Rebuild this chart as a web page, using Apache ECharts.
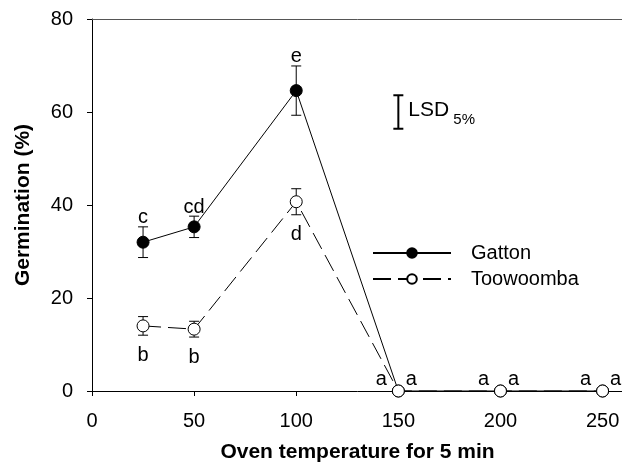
<!DOCTYPE html>
<html>
<head>
<meta charset="utf-8">
<script src="https://cdn.jsdelivr.net/npm/echarts@6/dist/echarts.min.js"></script>
<style>
  html, body { margin: 0; padding: 0; background: #fff; }
  #chart { width: 622px; height: 464px; }
</style>
</head>
<body>
<div id="chart"></div>
<script>
// oven temperature (x) and germination % per site
var temps = [25, 50, 100, 150, 200, 250]
var gatton = [32.0, 35.3, 64.6, 0, 0, 0]
var gattonSE = [3.3, 2.3, 5.3, 0, 0, 0]
var gattonLetters = ['c', 'cd', 'e', 'a', 'a', 'a']
var toowoomba = [14.0, 13.3, 40.7, 0, 0, 0]
var toowoombaSE = [2.0, 1.7, 2.8, 0, 0, 0]
var toowoombaLetters = ['b', 'b', 'd', 'a', 'a', 'a']
var xTicks = [0, 50, 100, 150, 200, 250]
var yTicks = [0, 20, 40, 60, 80]
var lsdAt = [150, 60]
var lsdValue = 7.2

var FONT = "'Liberation Sans', Arial, sans-serif"

function rows(vals, errs, letters) {
  return temps.map(function(t, i) {
    return [t, vals[i], errs[i], letters[i]]
  })
}

function renderErr(params, api) {
  var x = api.value(0)
  var y = api.value(1)
  var e = api.value(2)
  if (!e) return
  var top = api.coord([x, y + e])
  var bot = api.coord([x, y - e])
  var w = 5
  var st = { stroke: '#000', lineWidth: 1 }
  return {
    type: 'group',
    children: [
      { type: 'line', shape: { x1: top[0], y1: top[1], x2: bot[0], y2: bot[1] }, style: st },
      { type: 'line', shape: { x1: top[0] - w, y1: top[1], x2: top[0] + w, y2: top[1] }, style: st },
      { type: 'line', shape: { x1: bot[0] - w, y1: bot[1], x2: bot[0] + w, y2: bot[1] }, style: st }
    ]
  }
}

function textEl(x, y, txt, size, va) {
  return {
    type: 'text',
    x: x,
    y: y,
    style: {
      text: txt,
      font: size + 'px ' + FONT,
      fill: '#000',
      align: 'center',
      verticalAlign: va,
      textAlign: 'center',
      textVerticalAlign: va
    }
  }
}

// letters above for Gatton, below for Toowoomba; at zero left/right of point
function letterRenderer(above) {
  var letters = above ? gattonLetters : toowoombaLetters
  return function(params, api) {
    var x = api.value(0)
    var y = api.value(1)
    var e = api.value(2)
    var txt = letters[params.dataIndex]
    if (y === 0) {
      var p0 = api.coord([x, 0])
      return textEl(p0[0] + (above ? -17 : 13), p0[1] - 2, txt, 20, 'bottom')
    }
    if (above) {
      var pt = api.coord([x, y + e])
      return textEl(pt[0], pt[1] + 1, txt, 20, 'bottom')
    }
    var pb = api.coord([x, y - e])
    return textEl(pb[0], pb[1] + 10, txt, 20, 'top')
  }
}

function renderLsd(params, api) {
  var x = api.value(0)
  var y = api.value(1)
  var h = api.value(2) / 2
  var top = api.coord([x, y + h])
  var bot = api.coord([x, y - h])
  var w = 5
  var st = { stroke: '#000', lineWidth: 2 }
  var mid = (top[1] + bot[1]) / 2
  return {
    type: 'group',
    children: [
      { type: 'line', shape: { x1: top[0], y1: top[1], x2: bot[0], y2: bot[1] }, style: st },
      { type: 'line', shape: { x1: top[0] - w, y1: top[1], x2: top[0] + w, y2: top[1] }, style: st },
      { type: 'line', shape: { x1: bot[0] - w, y1: bot[1], x2: bot[0] + w, y2: bot[1] }, style: st },
      {
        type: 'text', x: top[0] + 10, y: mid - 2,
        style: { text: 'LSD', font: '21px ' + FONT, fill: '#000', align: 'left', verticalAlign: 'middle', textAlign: 'left', textVerticalAlign: 'middle' }
      },
      {
        type: 'text', x: top[0] + 55, y: mid + 8,
        style: { text: '5%', font: '15px ' + FONT, fill: '#000', align: 'left', verticalAlign: 'middle', textAlign: 'left', textVerticalAlign: 'middle' }
      }
    ]
  }
}

var chart = echarts.init(document.getElementById('chart'))
chart.setOption({
  backgroundColor: '#fff',
  animation: false,
  textStyle: { fontFamily: FONT },
  grid: {
    left: 92,
    right: -1,
    top: 19,
    bottom: 73,
    containLabel: false,
    outerBoundsMode: 'none'
  },
  legend: {
    orient: 'vertical',
    left: 372,
    top: 243,
    padding: 0,
    itemWidth: 78,
    itemHeight: 12,
    itemGap: 6,
    data: ['Gatton', 'Toowoomba'],
    textStyle: {
      fontSize: 20,
      color: '#000',
      padding: [0, 0, 0, 15]
    }
  },
  xAxis: [{
    type: 'value',
    min: 0,
    max: 260,
    interval: 50,
    name: 'Oven temperature for 5 min',
    nameLocation: 'middle',
    nameGap: 51,
    nameTextStyle: { fontSize: 21, fontWeight: 'bold', color: '#000' },
    axisLine: { lineStyle: { color: '#000', width: 1 } },
    axisTick: { inside: false, length: 5, lineStyle: { color: '#000' } },
    axisLabel: {
      fontSize: 20,
      color: '#000',
      margin: 20,
      formatter: function(v) {
        return xTicks.indexOf(v) >= 0 ? String(v) : ''
      }
    },
    splitLine: { show: false }
  }, {
    type: 'value',
    position: 'top',
    min: 0,
    max: 260,
    axisLine: { show: true, lineStyle: { color: '#555', width: 1 } },
    axisTick: { show: false },
    axisLabel: { show: false },
    splitLine: { show: false }
  }],
  yAxis: [{
    type: 'value',
    min: 0,
    max: 80,
    interval: 20,
    name: 'Germination (%)',
    nameLocation: 'middle',
    nameGap: 58,
    nameTextStyle: { fontSize: 21, fontWeight: 'bold', color: '#000' },
    axisLine: { show: true, lineStyle: { color: '#000', width: 1 } },
    axisTick: { show: true, inside: false, length: 5, lineStyle: { color: '#000' } },
    axisLabel: {
      fontSize: 20,
      color: '#000',
      margin: 19,
      formatter: function(v) {
        return yTicks.indexOf(v) >= 0 ? String(v) : ''
      }
    },
    splitLine: { show: false }
  }],
  series: [
    {
      type: 'custom',
      name: 'gErr',
      renderItem: renderErr,
      data: rows(gatton, gattonSE, gattonLetters),
      encode: { x: 0, y: 1 },
      z: 1,
      silent: true
    },
    {
      type: 'custom',
      name: 'tErr',
      renderItem: renderErr,
      data: rows(toowoomba, toowoombaSE, toowoombaLetters),
      encode: { x: 0, y: 1 },
      z: 1,
      silent: true
    },
    {
      type: 'line',
      name: 'Gatton',
      data: temps.map(function(t, i) { return [t, gatton[i]] }),
      symbol: 'circle',
      symbolSize: 12,
      showAllSymbol: true,
      lineStyle: { color: '#000', width: 1 },
      itemStyle: { color: '#000', borderColor: '#000', borderWidth: 1 },
      z: 3
    },
    {
      type: 'line',
      name: 'Toowoomba',
      data: temps.map(function(t, i) { return [t, toowoomba[i]] }),
      symbol: 'circle',
      symbolSize: 12,
      showAllSymbol: true,
      lineStyle: { color: '#000', width: 1, type: [18, 7] },
      itemStyle: { color: '#fff', borderColor: '#000', borderWidth: 1 },
      z: 4
    },
    {
      type: 'custom',
      name: 'gLetters',
      renderItem: letterRenderer(true),
      data: rows(gatton, gattonSE, gattonLetters),
      encode: { x: 0, y: 1 },
      z: 5,
      silent: true
    },
    {
      type: 'custom',
      name: 'tLetters',
      renderItem: letterRenderer(false),
      data: rows(toowoomba, toowoombaSE, toowoombaLetters),
      encode: { x: 0, y: 1 },
      z: 5,
      silent: true
    },
    {
      type: 'custom',
      name: 'lsd',
      renderItem: renderLsd,
      data: [[lsdAt[0], lsdAt[1], lsdValue]],
      encode: { x: 0, y: 1 },
      z: 5,
      silent: true
    }
  ]
})
</script>
</body>
</html>
